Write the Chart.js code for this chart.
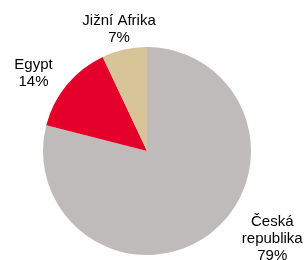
<!DOCTYPE html>
<html>
<head>
<meta charset="utf-8">
<script src="https://cdn.jsdelivr.net/npm/chart.js@4/dist/chart.umd.min.js"></script>
<style>
html,body{margin:0;padding:0;background:#fff;}
canvas{display:block;}
</style>
</head>
<body>
<canvas id="c" width="305" height="260"></canvas>
<script>
const categories = ["Česká republika", "Egypt", "Jižní Afrika"];
const labelLines = [["Česká", "republika", "79%"], ["Egypt", "14%"], ["Jižní Afrika", "7%"]];
const values = [79, 14, 7];
const colors = ["#bfbbba", "#e4002b", "#d7c497"];
// label placement: radial factor and angular offset (degrees) from slice mid-angle
const labelRadial = [1.472, 1.324, 1.204];
const labelAngleOffset = [-17.1, -5.1, -0.3];

const labelPlugin = {
  id: 'outerLabels',
  afterDatasetsDraw(chart) {
    const ctx = chart.ctx;
    const meta = chart.getDatasetMeta(0);
    ctx.save();
    ctx.font = '15px "Liberation Sans", Arial, sans-serif';
    ctx.fillStyle = '#000';
    ctx.textAlign = 'center';
    ctx.textBaseline = 'middle';
    const lh = 17;
    meta.data.forEach((arc, i) => {
      const p = arc.getProps(['x','y','startAngle','endAngle','outerRadius'], true);
      const mid = (p.startAngle + p.endAngle) / 2 + labelAngleOffset[i] * Math.PI / 180;
      const r = p.outerRadius * labelRadial[i];
      const cx = p.x + Math.cos(mid) * r;
      const cy = p.y + Math.sin(mid) * r;
      const lines = labelLines[i];
      const y0 = cy - (lines.length - 1) * lh / 2;
      lines.forEach((t, j) => ctx.fillText(t, cx, y0 + j * lh));
    });
    ctx.restore();
  }
};

new Chart(document.getElementById('c'), {
  type: 'pie',
  data: {
    labels: categories,
    datasets: [{ data: values, backgroundColor: colors, borderWidth: 0 }]
  },
  options: {
    responsive: false,
    devicePixelRatio: 1,
    animation: false,
    layout: { padding: { left: 43, right: 54, top: 47, bottom: 5 } },
    plugins: { legend: { display: false }, tooltip: { enabled: false } }
  },
  plugins: [labelPlugin]
});
</script>
</body>
</html>
